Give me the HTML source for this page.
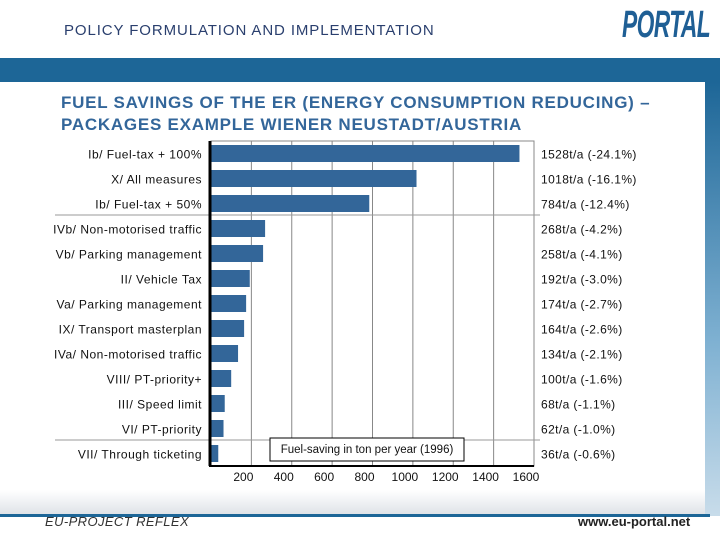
<!DOCTYPE html>
<html><head><meta charset="utf-8"><style>
body{margin:0;width:720px;height:540px;overflow:hidden;background:#fff;font-family:"Liberation Sans",sans-serif;position:relative}
.abs{position:absolute}
</style></head><body>
<div class="abs" style="left:64px;top:22px;font-size:15px;letter-spacing:0.9px;color:#2a3f6e">POLICY FORMULATION AND IMPLEMENTATION</div>
<div class="abs" style="left:622px;top:4px;font-size:38px;font-weight:bold;font-style:italic;color:#1f5f95;transform:scaleX(0.6);transform-origin:left;letter-spacing:-1px">PORTAL</div>
<div class="abs" style="left:0;top:58px;width:720px;height:24px;background:#1d6697"></div>
<div class="abs" style="left:705px;top:82px;width:15px;height:434px;background:linear-gradient(#1d6697,#7fb1d2 60%,#c8dcea)"></div>
<div class="abs" style="left:0;top:490px;width:705px;height:24px;background:linear-gradient(#fff,#dfe3e8)"></div>
<div class="abs" style="left:0;top:514px;width:710px;height:3px;background:#1d6697"></div>
<div class="abs" style="left:61px;top:92px;font-size:17px;letter-spacing:0.75px;font-weight:bold;color:#33669a;line-height:22px">FUEL SAVINGS OF THE ER (ENERGY CONSUMPTION REDUCING) –<br>PACKAGES EXAMPLE WIENER NEUSTADT/AUSTRIA</div>
<svg class="abs" style="left:0;top:0" width="720" height="540" id="chart"></svg>
<div class="abs" style="left:45px;top:514px;font-size:13px;letter-spacing:0.4px;font-style:italic;color:#333">EU-PROJECT REFLEX</div>
<div class="abs" style="left:578px;top:514px;font-size:13px;font-weight:bold;color:#222">www.eu-portal.net</div>
<script>
const categories=["Ib/ Fuel-tax + 100%","X/ All measures","Ib/ Fuel-tax + 50%","IVb/ Non-motorised traffic","Vb/ Parking management","II/ Vehicle Tax","Va/ Parking management","IX/ Transport masterplan","IVa/ Non-motorised traffic","VIII/ PT-priority+","III/ Speed limit","VI/ PT-priority","VII/ Through ticketing"];
const values=[1528,1018,784,268,258,192,174,164,134,100,68,62,36];
const valueLabels=["1528t/a (-24.1%)","1018t/a (-16.1%)","784t/a (-12.4%)","268t/a (-4.2%)","258t/a (-4.1%)","192t/a (-3.0%)","174t/a (-2.7%)","164t/a (-2.6%)","134t/a (-2.1%)","100t/a (-1.6%)","68t/a (-1.1%)","62t/a (-1.0%)","36t/a (-0.6%)"];
const ticks=[200,400,600,800,1000,1200,1400,1600];
const svg=document.getElementById('chart');
const NS='http://www.w3.org/2000/svg';
const x0=211,xMax=1600,xR=534,yTop=141,yBot=466;
const x=v=>x0+v*(xR-x0)/xMax;
const step=(yBot-yTop)/categories.length;
const yc=i=>yTop+step*(i+0.5);
function mk(t,a){const e=document.createElementNS(NS,t);for(const k in a)e.setAttribute(k,a[k]);svg.appendChild(e);return e;}
let r=mk('rect',{x:x0,y:yTop,width:xR-x0,height:yBot-yTop,fill:'#fff',stroke:'#888'});


ticks.forEach(t=>{const l=mk('line',{x1:x(t),x2:x(t),y1:yTop,y2:yBot,stroke:'#888'});


const tx=mk('text',{x:x(t)-8,y:481,'font-size':12,'text-anchor':'middle',fill:'#111','font-family':'Liberation Sans'});tx.textContent=t;

});
[3,12].forEach(i=>{const l=mk('line',{x1:55,x2:540,y1:yTop+step*i-1,y2:yTop+step*i-1,stroke:'#999'});

});
categories.forEach((c,i)=>{
const b=mk('rect',{x:x0,y:yc(i)-8.5,width:x(values[i])-x0,height:17,fill:'#336699'});


const t=mk('text',{x:202,y:yc(i)+5,'font-size':12,'letter-spacing':0.5,'text-anchor':'end',fill:'#111','font-family':'Liberation Sans'});t.textContent=c;


const v=mk('text',{x:541,y:yc(i)+5,'font-size':12,'letter-spacing':0.4,fill:'#111','font-family':'Liberation Sans'});v.textContent=valueLabels[i];

});
let ax=mk('line',{x1:x0-1,x2:x0-1,y1:yTop,y2:yBot,stroke:'#000','stroke-width':3});


let bx=mk('line',{x1:x0-2,x2:xR,y1:yBot,y2:yBot,stroke:'#000','stroke-width':2});


let lb=mk('rect',{x:270,y:438,width:194,height:23,fill:'#fff',stroke:'#000'});


let lt=mk('text',{x:367,y:453,'font-size':11.5,'text-anchor':'middle',fill:'#111','font-family':'Liberation Sans'});lt.textContent='Fuel-saving in ton per year (1996)';


</script>
</body></html>
